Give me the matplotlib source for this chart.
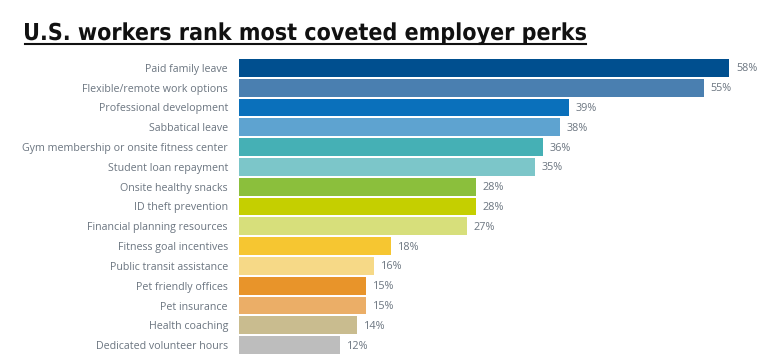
import matplotlib
matplotlib.use("Agg")
import matplotlib.pyplot as plt
from matplotlib import font_manager
from matplotlib.textpath import TextPath
from matplotlib.patches import PathPatch
from matplotlib.font_manager import FontProperties
from matplotlib.transforms import Affine2D

perks = [
    "Paid family leave",
    "Flexible/remote work options",
    "Professional development",
    "Sabbatical leave",
    "Gym membership or onsite fitness center",
    "Student loan repayment",
    "Onsite healthy snacks",
    "ID theft prevention",
    "Financial planning resources",
    "Fitness goal incentives",
    "Public transit assistance",
    "Pet friendly offices",
    "Pet insurance",
    "Health coaching",
    "Dedicated volunteer hours",
]
share = [58, 55, 39, 38, 36, 35, 28, 28, 27, 18, 16, 15, 15, 14, 12]
colors = [
    "#004f8f", "#4a7fb0", "#0a70bb", "#5ea3d0", "#45b0b5",
    "#7cc6c9", "#8bbf3c", "#c5cf00", "#d7df7b", "#f6c631",
    "#f6d987", "#e8942a", "#ebae67", "#c9bc8f", "#bdbdbd",
]
title = "U.S. workers rank most coveted employer perks"

names = {f.name for f in font_manager.fontManager.ttflist}
label_font = "Open Sans" if "Open Sans" in names else "DejaVu Sans"

W, H = 768, 364
fig = plt.figure(figsize=(W / 100, H / 100), dpi=100)
ax = fig.add_axes([239 / W, 1 - 355 / H, 1 - 239 / W, (355 - 58) / H])

y = list(range(len(perks)))
ax.barh(y, share, height=0.9, color=colors)
ax.set_ylim(len(perks) - 0.5, -0.5)
ax.set_xlim(0, 62.6)

for yi, v in zip(y, share):
    ax.text(v + 0.8, yi + 0.05, f"{v}%", va="center", ha="left",
            fontsize=7.8, color="#6b7580", family=label_font)

ax.set_yticks(y)
ax.set_yticklabels(perks, fontsize=7.7, color="#6b7580", family=label_font)
ax.tick_params(axis="y", length=0, pad=8)
ax.set_xticks([])
for s in ax.spines.values():
    s.set_visible(False)

# condensed bold title: squeeze a text path to the reference width
tp = TextPath((0, 0), title, size=100, prop=FontProperties(family="DejaVu Sans", weight="bold"))
ext = tp.get_extents()
sx = (586 - 25) / ext.width
sy = 17 / 72.9
tr = Affine2D().translate(-ext.x0, 0).scale(sx, sy).translate(25, H - 40)
fig.add_artist(PathPatch(tr.transform_path(tp), facecolor="#111111", edgecolor="none",
                         transform=None))
fig.add_artist(plt.Line2D([25 / W, 586 / W], [1 - 44 / H, 1 - 44 / H],
                          color="#111111", linewidth=1.5))

fig.savefig("out.png", dpi=100)
